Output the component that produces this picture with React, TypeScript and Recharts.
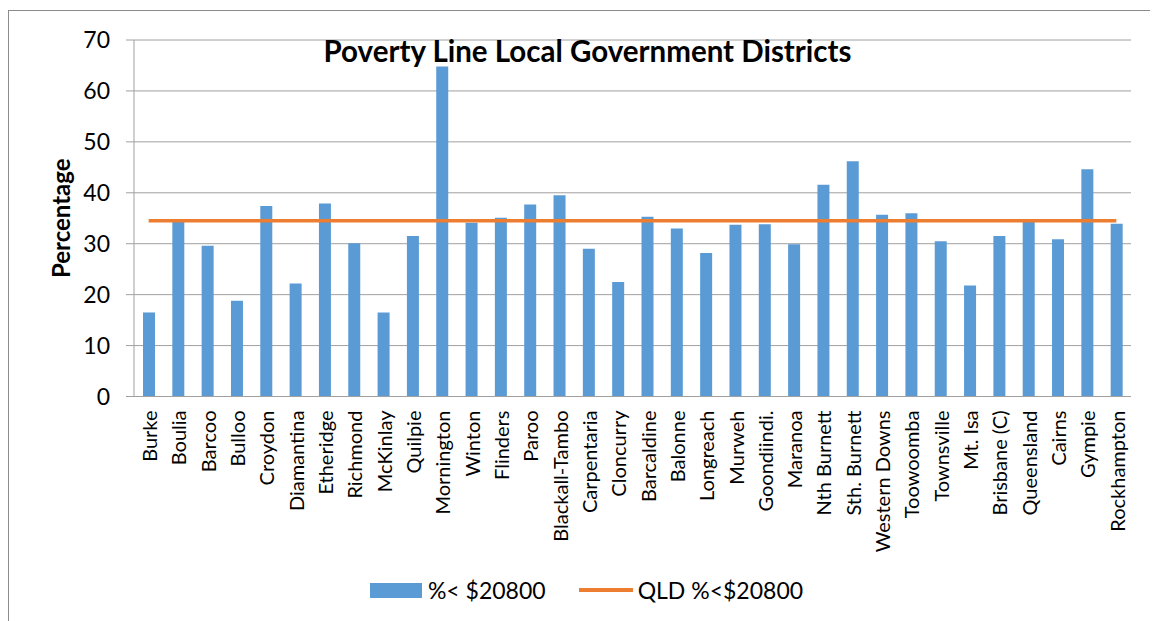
import { ComposedChart, Bar, Line, XAxis, YAxis, CartesianGrid, Legend, Label } from 'recharts';

const districts = [
  'Burke', 'Boulia', 'Barcoo', 'Bulloo', 'Croydon', 'Diamantina', 'Etheridge', 'Richmond',
  'McKinlay', 'Quilpie', 'Mornington', 'Winton', 'Flinders', 'Paroo', 'Blackall-Tambo',
  'Carpentaria', 'Cloncurry', 'Barcaldine', 'Balonne', 'Longreach', 'Murweh', 'Goondiindi.',
  'Maranoa', 'Nth Burnett', 'Sth. Burnett', 'Western Downs', 'Toowoomba', 'Townsville',
  'Mt. Isa', 'Brisbane (C)', 'Queensland', 'Cairns', 'Gympie', 'Rockhampton',
];

// share of households under $20800
const belowLine = [
  16.5, 34.3, 29.6, 18.8, 37.4, 22.2, 37.9, 30.1,
  16.5, 31.5, 64.8, 34.1, 35.1, 37.7, 39.5,
  29.0, 22.5, 35.3, 33.0, 28.2, 33.7, 33.8,
  29.9, 41.6, 46.2, 35.7, 36.0, 30.5,
  21.8, 31.5, 34.5, 30.9, 44.6, 33.9,
];

// state-wide figure, flat across all districts
const qldBelowLine = [
  34.5, 34.5, 34.5, 34.5, 34.5, 34.5, 34.5, 34.5,
  34.5, 34.5, 34.5, 34.5, 34.5, 34.5, 34.5,
  34.5, 34.5, 34.5, 34.5, 34.5, 34.5, 34.5,
  34.5, 34.5, 34.5, 34.5, 34.5, 34.5,
  34.5, 34.5, 34.5, 34.5, 34.5, 34.5,
];

const yTicks = [0, 10, 20, 30, 40, 50, 60, 70];

const BLUE = '#5B9BD5';
const ORANGE = '#ED7D31';
const GRID = '#A0A0A0';
const FONT = 'Lato, "Open Sans", sans-serif';

const chartData = districts.map((name, i) => ({
  name,
  below: belowLine[i],
  qld: qldBelowLine[i],
}));

// tick marks sit between categories, so a numeric axis over [0, n] supplies them
const edgeTicks = [...districts.map((_, i) => i), districts.length];

function DistrictTick({ x, y, payload }: any) {
  return (
    <text
      x={x}
      y={y}
      transform={`rotate(-90, ${x}, ${y})`}
      textAnchor="end"
      dy="0.42em"
      fontSize={20}
      fontFamily={FONT}
      fill="#000"
    >
      {payload.value}
    </text>
  );
}

function YTitle({ viewBox }: any) {
  const cx = viewBox.x + 52;
  const cy = viewBox.y + viewBox.height / 2;
  return (
    <text
      x={cx}
      y={cy}
      transform={`rotate(-90, ${cx}, ${cy})`}
      textAnchor="middle"
      dominantBaseline="central"
      fontSize={24}
      fontWeight="bold"
      fontFamily={FONT}
      fill="#000"
    >
      Percentage
    </text>
  );
}

function LegendContent({ payload }: any) {
  return (
    <div
      style={{
        display: 'flex',
        justifyContent: 'center',
        alignItems: 'center',
        height: 40,
        paddingLeft: 7,
        fontFamily: FONT,
        fontSize: 23,
        color: '#000',
      }}
    >
      {(payload || []).map((entry: any, i: number) => (
        <div key={i} style={{ display: 'flex', alignItems: 'center', marginRight: i === 0 ? 33 : 0 }}>
          {entry.type === 'line' ? (
            <span style={{ width: 54, height: 4, background: entry.color, marginRight: 5 }} />
          ) : (
            <span style={{ width: 52, height: 15, background: entry.color, marginRight: 6 }} />
          )}
          <span>{entry.value}</span>
        </div>
      ))}
    </div>
  );
}

export default function App() {
  return (
    <div style={{ paddingTop: 2 }}>
      <div style={{ position: 'relative', width: 1150, height: 611 }}>
        <div
          style={{
            position: 'absolute',
            inset: 0,
            borderLeft: '1px solid #8C8C8C',
            borderTop: '1px solid #8C8C8C',
          }}
        />
        <div style={{ position: 'absolute', left: 0, top: 0 }}>
          <ComposedChart
            width={1150}
            height={611}
            data={chartData}
            margin={{ top: 30, right: 27, left: 0, bottom: 182.5 }}
            barSize={12}
          >
            <CartesianGrid vertical={false} stroke={GRID} xAxisId="cat" />
            <XAxis
              xAxisId="edges"
              type="number"
              domain={[0, districts.length]}
              ticks={edgeTicks}
              tick={false}
              tickSize={6}
              tickLine={{ stroke: GRID }}
              axisLine={false}
              height={1}
              allowDataOverflow
            />
            <XAxis
              xAxisId="cat"
              dataKey="name"
              interval={0}
              tick={<DistrictTick />}
              tickLine={false}
              axisLine={{ stroke: GRID }}
              tickSize={6}
              tickMargin={8}
              height={1}
            />
            <YAxis
              domain={[0, 70]}
              ticks={yTicks}
              width={126}
              tickSize={8}
              tickMargin={16}
              tickLine={{ stroke: GRID }}
              axisLine={{ stroke: GRID }}
              tick={{ fontSize: 23, fontFamily: FONT, fill: '#000' }}
            >
              <Label content={<YTitle />} />
            </YAxis>
            <Bar xAxisId="cat" dataKey="below" name="%< $20800" fill={BLUE} isAnimationActive={false} />
            <Line
              xAxisId="cat"
              dataKey="qld"
              name="QLD %<$20800"
              type="linear"
              stroke={ORANGE}
              strokeWidth={3.5}
              dot={false}
              activeDot={false}
              legendType="line"
              isAnimationActive={false}
            />
            <Legend
              verticalAlign="bottom"
              wrapperStyle={{ left: 0, width: 1150, bottom: 11 }}
              content={<LegendContent />}
            />
          </ComposedChart>
        </div>
        <div
          style={{
            position: 'absolute',
            left: 4.5,
            top: 24,
            width: 1150,
            textAlign: 'center',
            fontFamily: FONT,
            fontWeight: 'bold',
            fontSize: 29.5,
            lineHeight: '34px',
            color: '#000',
          }}
        >
          Poverty Line Local Government Districts
        </div>
      </div>
    </div>
  );
}
